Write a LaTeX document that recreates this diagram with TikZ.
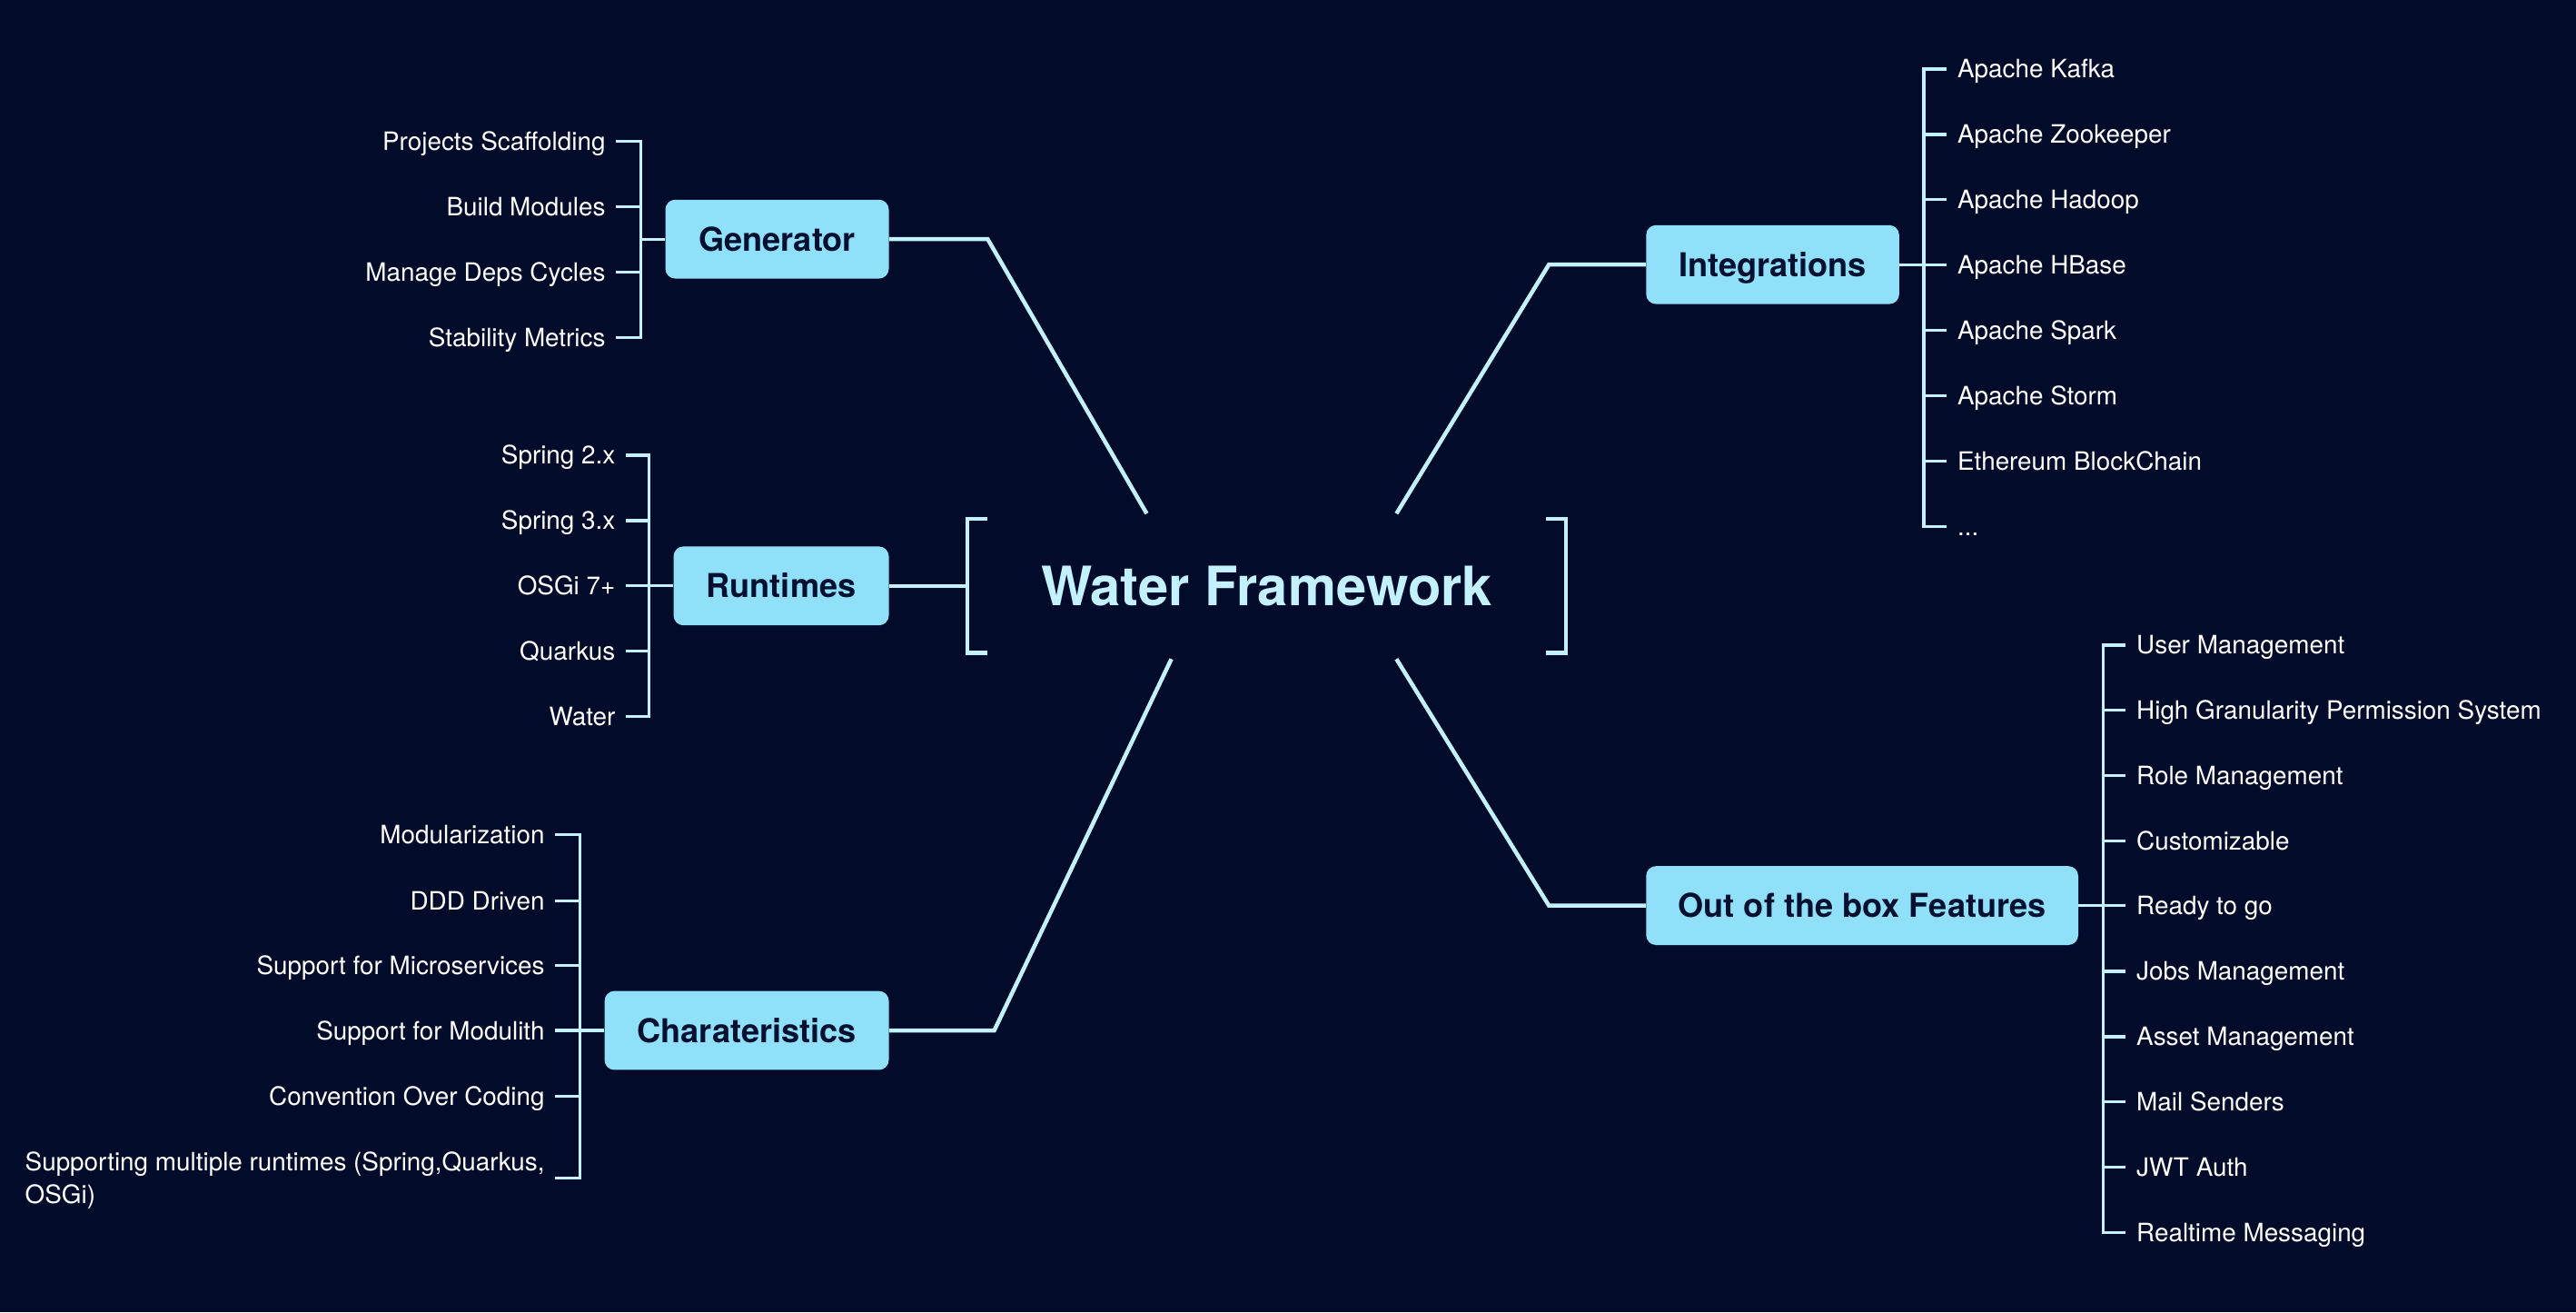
\documentclass[tikz,border=0pt]{standalone}
\usepackage{fontspec}
\setmainfont{TeX Gyre Heros}
\usepackage{xcolor}
\usepackage{tikz}

\definecolor{navy}{HTML}{020C2A}
\definecolor{ice}{HTML}{C4F1FF}
\definecolor{sky}{HTML}{8FE0F8}
\definecolor{ink}{HTML}{041030}

\tikzset{
  topic/.style={fill=sky, text=ink, rounded corners=6pt, minimum height=48pt, inner sep=0pt, text height=14.4pt, text depth=0pt, font=\fontsize{20}{24}\selectfont\bfseries},
  leaf/.style={text=white, inner sep=0pt, outer xsep=6.5pt, outer ysep=0pt, text height=11pt, text depth=0pt, font=\fontsize{15.4}{20}\selectfont},
  trunk/.style={draw=ice, line width=2.5pt},
  twig/.style={draw=ice, line width=1.8pt}
}

\begin{document}
\begin{tikzpicture}[x=1pt, y=-1pt]
    % Background
    \useasboundingbox (0,0) rectangle (1568,798.4);
    \fill[navy] (0,0) rectangle (1568,798.4);

    % Centre topic with brackets
    \node[text=ice, font=\fontsize{33}{40}\selectfont\bfseries, minimum width=364pt, minimum height=81pt, inner sep=0pt] (WF) at (771,356.5) {Water Framework};
    \draw[trunk] ([xshift=12pt]WF.north west) -- (WF.north west) -- (WF.south west) -- ([xshift=12pt]WF.south west);
    \draw[trunk] ([xshift=-12pt]WF.north east) -- (WF.north east) -- (WF.south east) -- ([xshift=-12pt]WF.south east);
    \coordinate (WFa) at (698,312.5);
    \coordinate (WFb) at (850,312.5);
    \coordinate (WFc) at (713,401);
    \coordinate (WFd) at (850,401);

    % Main topics
    \node[topic, minimum width=136pt] (Gen)  at (473,145.5)  {Generator};
    \node[topic, minimum width=131pt] (Run)  at (475.5,356.5) {Runtimes};
    \node[topic, minimum width=173pt] (Cha)  at (454.5,627)  {Charateristics};
    \node[topic, minimum width=154pt] (Int)  at (1079,161)   {Integrations};
    \node[topic, minimum width=263pt] (Feat) at (1133.5,551) {Out of the box Features};

    % trunks from the centre
    \draw[trunk] (WFa) -- ([xshift=60pt]Gen.east) -- (Gen.east);
    \draw[trunk] (WFb) -- ([xshift=-59pt]Int.west) -- (Int.west);
    \draw[trunk] (WF.west) -- (Run.east);
    \draw[trunk] (WFc) -- ([xshift=64pt]Cha.east) -- (Cha.east);
    \draw[trunk] (WFd) -- ([xshift=-59pt]Feat.west) -- (Feat.west);

    % Generator leaves
    \node[leaf, anchor=east] (G1) at (375,86)    {Projects Scaffolding};
    \node[leaf, anchor=east] (G2) at (375,125.8) {Build Modules};
    \node[leaf, anchor=east] (G3) at (375,165.5) {Manage Deps Cycles};
    \node[leaf, anchor=east] (G4) at (375,205.2) {Stability Metrics};
    \draw[twig] (G1.east) -- ++(15,0) |- (G4.east);
    \draw[twig] (G2.east) -- ++(15,0);
    \draw[twig] (G3.east) -- ++(15,0);
    \draw[twig] (Gen.west) -- ++(-15,0);

    % Runtimes leaves
    \node[leaf, anchor=east] (R1) at (381,277)   {Spring 2.x};
    \node[leaf, anchor=east] (R2) at (381,316.8) {Spring 3.x};
    \node[leaf, anchor=east] (R3) at (381,356.5) {OSGi 7+};
    \node[leaf, anchor=east] (R4) at (381,396.2) {Quarkus};
    \node[leaf, anchor=east] (R5) at (381,436)   {Water};
    \draw[twig] (R1.east) -- ++(14,0) |- (R5.east);
    \draw[twig] (R2.east) -- ++(14,0);
    \draw[twig] (R3.east) -- ++(14,0);
    \draw[twig] (R4.east) -- ++(14,0);
    \draw[twig] (Run.west) -- ++(-15,0);

    % Charateristics leaves
    \node[leaf, anchor=east] (C1) at (338,508)   {Modularization};
    \node[leaf, anchor=east] (C2) at (338,548)   {DDD Driven};
    \node[leaf, anchor=east] (C3) at (338,587.5) {Support for Microservices};
    \node[leaf, anchor=east] (C4) at (338,627)   {Support for Modulith};
    \node[leaf, anchor=east] (C5) at (338,667)   {Convention Over Coding};
    \node[leaf, anchor=east, align=left, text height=31pt] (C6) at (338,717) {Supporting multiple runtimes (Spring,Quarkus,\\OSGi)};
    \draw[twig] (C1.east) -- ++(15,0) |- (C6.east);
    \draw[twig] (C2.east) -- ++(15,0);
    \draw[twig] (C3.east) -- ++(15,0);
    \draw[twig] (C4.east) -- ++(15,0);
    \draw[twig] (C5.east) -- ++(15,0);
    \draw[twig] (Cha.west) -- ++(-15,0);

    % Integrations leaves
    \node[leaf, anchor=west] (I1) at (1185,42)    {Apache Kafka};
    \node[leaf, anchor=west] (I2) at (1185,81.8)  {Apache Zookeeper};
    \node[leaf, anchor=west] (I3) at (1185,121.5) {Apache Hadoop};
    \node[leaf, anchor=west] (I4) at (1185,161)   {Apache HBase};
    \node[leaf, anchor=west] (I5) at (1185,201)   {Apache Spark};
    \node[leaf, anchor=west] (I6) at (1185,240.8) {Apache Storm};
    \node[leaf, anchor=west] (I7) at (1185,280.5) {Ethereum BlockChain};
    \node[leaf, anchor=west] (I8) at (1185,320.5) {...};
    \draw[twig] (I1.west) -- ++(-14,0) |- (I8.west);
    \draw[twig] (I2.west) -- ++(-14,0);
    \draw[twig] (I3.west) -- ++(-14,0);
    \draw[twig] (I4.west) -- ++(-14,0);
    \draw[twig] (I5.west) -- ++(-14,0);
    \draw[twig] (I6.west) -- ++(-14,0);
    \draw[twig] (I7.west) -- ++(-14,0);
    \draw[twig] (Int.east) -- ++(15,0);

    % Out of the box Features leaves
    \node[leaf, anchor=west] (F1)  at (1294,392.5) {User Management};
    \node[leaf, anchor=west] (F2)  at (1294,432.2) {High Granularity Permission System};
    \node[leaf, anchor=west] (F3)  at (1294,472)   {Role Management};
    \node[leaf, anchor=west] (F4)  at (1294,511.7) {Customizable};
    \node[leaf, anchor=west] (F5)  at (1294,551)   {Ready to go};
    \node[leaf, anchor=west] (F6)  at (1294,591)   {Jobs Management};
    \node[leaf, anchor=west] (F7)  at (1294,630.8) {Asset Management};
    \node[leaf, anchor=west] (F8)  at (1294,670.5) {Mail Senders};
    \node[leaf, anchor=west] (F9)  at (1294,710.3) {JWT Auth};
    \node[leaf, anchor=west] (F10) at (1294,750)   {Realtime Messaging};
    \draw[twig] (F1.west) -- ++(-14,0) |- (F10.west);
    \draw[twig] (F2.west) -- ++(-14,0);
    \draw[twig] (F3.west) -- ++(-14,0);
    \draw[twig] (F4.west) -- ++(-14,0);
    \draw[twig] (F5.west) -- ++(-14,0);
    \draw[twig] (F6.west) -- ++(-14,0);
    \draw[twig] (F7.west) -- ++(-14,0);
    \draw[twig] (F8.west) -- ++(-14,0);
    \draw[twig] (F9.west) -- ++(-14,0);
    \draw[twig] (Feat.east) -- ++(15,0);
\end{tikzpicture}
\end{document}
